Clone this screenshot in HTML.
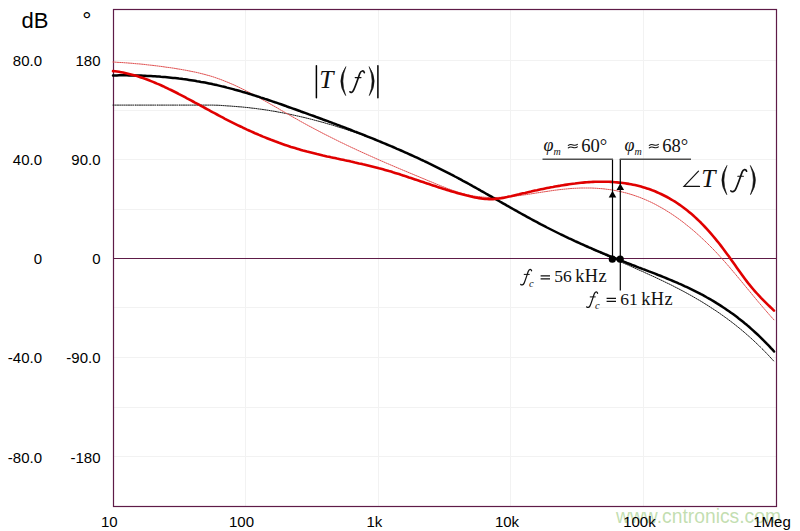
<!DOCTYPE html>
<html><head><meta charset="utf-8"><style>
html,body{margin:0;padding:0;background:#fff;width:800px;height:531px;overflow:hidden}
svg{display:block}
.s{font-family:"Liberation Sans",sans-serif;font-size:15px;fill:#000}
.m{font-family:"Liberation Serif",serif;fill:#111}
</style></head><body>
<svg width="800" height="531" viewBox="0 0 800 531">
<rect width="800" height="531" fill="#fff"/>
<g stroke="#f2f2f2" stroke-width="1"><line x1="245.5" y1="9.5" x2="245.5" y2="506.5"/><line x1="378.5" y1="9.5" x2="378.5" y2="506.5"/><line x1="510.5" y1="9.5" x2="510.5" y2="506.5"/><line x1="643.5" y1="9.5" x2="643.5" y2="506.5"/><line x1="113.5" y1="60.5" x2="776.5" y2="60.5"/><line x1="113.5" y1="110.5" x2="776.5" y2="110.5"/><line x1="113.5" y1="159.5" x2="776.5" y2="159.5"/><line x1="113.5" y1="209.5" x2="776.5" y2="209.5"/><line x1="113.5" y1="307.5" x2="776.5" y2="307.5"/><line x1="113.5" y1="357.5" x2="776.5" y2="357.5"/><line x1="113.5" y1="407.5" x2="776.5" y2="407.5"/><line x1="113.5" y1="456.5" x2="776.5" y2="456.5"/></g>
<line x1="113.5" y1="258.5" x2="776.5" y2="258.5" stroke="#5e1b47" stroke-width="1.1"/>
<rect x="113.5" y="9.5" width="663" height="497" fill="none" stroke="#5e1b47" stroke-width="1.2"/>
<text x="616" y="522.5" font-family="Liberation Sans,sans-serif" font-size="19.3" fill="#b3d69c" fill-opacity="0.8">www.cntronics.com</text>
<g class="s">
<text x="21.5" y="28.2" font-size="22">dB</text>
<text x="82.2" y="27.8" font-size="23">°</text>
<text x="42" y="65.5" text-anchor="end">80.0</text><text x="100.5" y="65.5" text-anchor="end">180</text><text x="42" y="165.0" text-anchor="end">40.0</text><text x="100.5" y="165.0" text-anchor="end">90.0</text><text x="42" y="264.2" text-anchor="end">0</text><text x="100.5" y="264.2" text-anchor="end">0</text><text x="42" y="363.3" text-anchor="end">-40.0</text><text x="100.5" y="363.3" text-anchor="end">-90.0</text><text x="42" y="462.5" text-anchor="end">-80.0</text><text x="100.5" y="462.5" text-anchor="end">-180</text>
<text x="109.3" y="526.5" text-anchor="middle">10</text><text x="241.5" y="526.5" text-anchor="middle">100</text><text x="374.3" y="526.5" text-anchor="middle">1k</text><text x="507.0" y="526.5" text-anchor="middle">10k</text><text x="639.4" y="526.5" text-anchor="middle">100k</text><text x="772.0" y="526.5" text-anchor="middle">1Meg</text>
</g>
<g fill="none" stroke-linecap="round" stroke-linejoin="round">
<path d="M113.0 105.1 L115.0 105.1 L117.0 105.1 L119.0 105.1 L121.0 105.1 L123.0 105.1 L125.0 105.1 L127.0 105.1 L129.0 105.1 L131.0 105.1 L133.0 105.1 L135.0 105.1 L137.0 105.1 L139.0 105.1 L141.0 105.1 L143.0 105.1 L145.0 105.1 L147.0 105.1 L149.0 105.1 L151.0 105.1 L153.0 105.1 L155.0 105.1 L157.0 105.1 L159.0 105.1 L161.0 105.1 L163.0 105.1 L165.0 105.1 L167.0 105.1 L169.0 105.1 L171.0 105.1 L173.0 105.1 L175.0 105.1 L177.0 105.1 L179.0 105.1 L181.0 105.1 L183.0 105.1 L185.0 105.1 L187.0 105.1 L189.0 105.1 L191.0 105.1 L193.0 105.1 L195.0 105.1 L197.0 105.1 L199.0 105.1 L201.0 105.1 L203.0 105.1 L205.0 105.1 L207.0 105.1 L209.0 105.1 L211.0 105.1 L213.0 105.1 L215.0 105.2 L217.0 105.2 L219.0 105.3 L221.0 105.4 L223.0 105.6 L225.0 105.7 L227.0 105.9 L229.0 106.0 L231.0 106.1 L233.0 106.3 L235.0 106.4 L237.0 106.6 L239.0 106.8 L241.0 106.9 L243.0 107.1 L245.0 107.3 L247.0 107.5 L249.0 107.7 L251.0 108.0 L253.0 108.2 L255.0 108.4 L257.0 108.7 L259.0 109.0 L261.0 109.2 L263.0 109.5 L265.0 109.8 L267.0 110.1 L269.0 110.4 L271.0 110.8 L273.0 111.1 L275.0 111.4 L277.0 111.8 L279.0 112.2 L281.0 112.5 L283.0 112.9 L285.0 113.3 L287.0 113.7 L289.0 114.1 L291.0 114.5 L293.0 115.0 L295.0 115.4 L297.0 115.9 L299.0 116.3 L301.0 116.8 L303.0 117.2 L305.0 117.7 L307.0 118.2 L309.0 118.7 L311.0 119.2 L313.0 119.7 L315.0 120.3 L317.0 120.8 L319.0 121.3 L321.0 121.9 L323.0 122.4 L325.0 123.0 L327.0 123.6 L329.0 124.2 L331.0 124.7 L333.0 125.3 L335.0 125.9 L337.0 126.6 L339.0 127.2 L341.0 127.8 L343.0 128.4 L345.0 129.1 L347.0 129.7 L349.0 130.4 L351.0 131.1 L353.0 131.7 L355.0 132.4 L357.0 133.1 L359.0 133.8 L361.0 134.5 L363.0 135.2 L365.0 136.0 L367.0 136.7 L369.0 137.4 L371.0 138.2 L373.0 138.9 L375.0 139.7 L377.0 140.5 L379.0 141.3 L381.0 142.1 L383.0 142.9 L385.0 143.7 L387.0 144.5 L389.0 145.3 L391.0 146.1 L393.0 147.0 L395.0 147.8 L397.0 148.7 L399.0 149.6 L401.0 150.4 L403.0 151.3 L405.0 152.2 L407.0 153.1 L409.0 154.0 L411.0 154.9 L413.0 155.8 L415.0 156.8 L417.0 157.7 L419.0 158.7 L421.0 159.6 L423.0 160.6 L425.0 161.6 L427.0 162.5 L429.0 163.5 L431.0 164.5 L433.0 165.5 L435.0 166.5 L437.0 167.5 L439.0 168.6 L441.0 169.6 L443.0 170.6 L445.0 171.7 L447.0 172.7 L449.0 173.7 L451.0 174.8 L453.0 175.9 L455.0 176.9 L457.0 178.0 L459.0 179.1 L461.0 180.1 L463.0 181.2 L465.0 182.3 L467.0 183.4 L469.0 184.5 L471.0 185.6 L473.0 186.7 L475.0 187.8 L477.0 188.9 L479.0 190.0 L481.0 191.1 L483.0 192.2 L485.0 193.4 L487.0 194.5 L489.0 195.6 L491.0 196.7 L493.0 197.9 L495.0 199.0 L497.0 200.1 L499.0 201.2 L501.0 202.4 L503.0 203.5 L505.0 204.6 L507.0 205.7 L509.0 206.8 L511.0 208.0 L513.0 209.1 L515.0 210.2 L517.0 211.3 L519.0 212.4 L521.0 213.5 L523.0 214.6 L525.0 215.7 L527.0 216.8 L529.0 217.9 L531.0 219.0 L533.0 220.1 L535.0 221.1 L537.0 222.2 L539.0 223.2 L541.0 224.3 L543.0 225.3 L545.0 226.4 L547.0 227.4 L549.0 228.5 L551.0 229.5 L553.0 230.5 L555.0 231.5 L557.0 232.5 L559.0 233.5 L561.0 234.5 L563.0 235.5 L565.0 236.5 L567.0 237.4 L569.0 238.4 L571.0 239.4 L573.0 240.3 L575.0 241.3 L577.0 242.2 L579.0 243.1 L581.0 244.1 L583.0 245.0 L585.0 245.9 L587.0 246.8 L589.0 247.8 L591.0 248.7 L593.0 249.6 L595.0 250.5 L597.0 251.4 L599.0 252.3 L601.0 253.2 L603.0 254.0 L605.0 254.9 L607.0 255.8 L609.0 256.7 L611.0 257.6 L613.0 258.5 L615.0 259.4 L617.0 260.2 L619.0 261.1 L621.0 262.0 L623.0 262.9 L625.0 263.8 L627.0 264.6 L629.0 265.5 L631.0 266.4 L633.0 267.3 L635.0 268.2 L637.0 269.1 L639.0 270.0 L641.0 270.9 L643.0 271.7 L645.0 272.7 L647.0 273.6 L649.0 274.5 L651.0 275.4 L653.0 276.3 L655.0 277.2 L657.0 278.2 L659.0 279.1 L661.0 280.1 L663.0 281.0 L665.0 282.0 L667.0 283.0 L669.0 283.9 L671.0 284.9 L673.0 285.9 L675.0 287.0 L677.0 288.0 L679.0 289.0 L681.0 290.1 L683.0 291.1 L685.0 292.2 L687.0 293.3 L689.0 294.4 L691.0 295.5 L693.0 296.6 L695.0 297.8 L697.0 299.0 L699.0 300.1 L701.0 301.3 L703.0 302.5 L705.0 303.8 L707.0 305.0 L709.0 306.3 L711.0 307.6 L713.0 308.9 L715.0 310.2 L717.0 311.5 L719.0 312.9 L721.0 314.3 L723.0 315.7 L725.0 317.2 L727.0 318.6 L729.0 320.1 L731.0 321.6 L733.0 323.1 L735.0 324.7 L737.0 326.3 L739.0 327.9 L741.0 329.5 L743.0 331.2 L745.0 332.9 L747.0 334.7 L749.0 336.4 L751.0 338.2 L753.0 340.0 L755.0 341.9 L757.0 343.8 L759.0 345.7 L761.0 347.7 L763.0 349.7 L765.0 351.7 L767.0 353.8 L769.0 355.9 L771.0 358.1 L773.0 360.2 L773.6 360.9" stroke="#1a1a1a" stroke-width="1" stroke-dasharray="1.2 1"/>
<path d="M113.0 62.0 L115.0 62.1 L117.0 62.3 L119.0 62.4 L121.0 62.5 L123.0 62.6 L125.0 62.8 L127.0 62.9 L129.0 63.1 L131.0 63.2 L133.0 63.4 L135.0 63.6 L137.0 63.8 L139.0 63.9 L141.0 64.1 L143.0 64.3 L145.0 64.5 L147.0 64.8 L149.0 65.0 L151.0 65.2 L153.0 65.4 L155.0 65.7 L157.0 65.9 L159.0 66.2 L161.0 66.4 L163.0 66.7 L165.0 67.0 L167.0 67.3 L169.0 67.5 L171.0 67.8 L173.0 68.1 L175.0 68.4 L177.0 68.8 L179.0 69.1 L181.0 69.4 L183.0 69.8 L185.0 70.1 L187.0 70.5 L189.0 70.9 L191.0 71.3 L193.0 71.7 L195.0 72.1 L197.0 72.5 L199.0 73.0 L201.0 73.5 L203.0 74.0 L205.0 74.5 L207.0 75.1 L209.0 75.6 L211.0 76.2 L213.0 76.8 L215.0 77.5 L217.0 78.2 L219.0 78.9 L221.0 79.6 L223.0 80.4 L225.0 81.2 L227.0 82.0 L229.0 82.8 L231.0 83.7 L233.0 84.5 L235.0 85.4 L237.0 86.4 L239.0 87.3 L241.0 88.3 L243.0 89.3 L245.0 90.2 L247.0 91.3 L249.0 92.3 L251.0 93.3 L253.0 94.4 L255.0 95.5 L257.0 96.6 L259.0 97.6 L261.0 98.8 L263.0 99.9 L265.0 101.0 L267.0 102.1 L269.0 103.3 L271.0 104.4 L273.0 105.5 L275.0 106.7 L277.0 107.8 L279.0 109.0 L281.0 110.2 L283.0 111.3 L285.0 112.5 L287.0 113.6 L289.0 114.8 L291.0 115.9 L293.0 117.1 L295.0 118.2 L297.0 119.3 L299.0 120.5 L301.0 121.6 L303.0 122.7 L305.0 123.8 L307.0 124.9 L309.0 126.0 L311.0 127.0 L313.0 128.1 L315.0 129.2 L317.0 130.2 L319.0 131.3 L321.0 132.3 L323.0 133.4 L325.0 134.4 L327.0 135.4 L329.0 136.4 L331.0 137.4 L333.0 138.4 L335.0 139.4 L337.0 140.4 L339.0 141.4 L341.0 142.4 L343.0 143.3 L345.0 144.3 L347.0 145.3 L349.0 146.2 L351.0 147.2 L353.0 148.1 L355.0 149.0 L357.0 150.0 L359.0 150.9 L361.0 151.8 L363.0 152.7 L365.0 153.6 L367.0 154.5 L369.0 155.4 L371.0 156.3 L373.0 157.2 L375.0 158.1 L377.0 159.0 L379.0 159.9 L381.0 160.8 L383.0 161.6 L385.0 162.5 L387.0 163.4 L389.0 164.2 L391.0 165.1 L393.0 165.9 L395.0 166.8 L397.0 167.6 L399.0 168.5 L401.0 169.3 L403.0 170.2 L405.0 171.0 L407.0 171.8 L409.0 172.7 L411.0 173.5 L413.0 174.3 L415.0 175.2 L417.0 176.0 L419.0 176.8 L421.0 177.7 L423.0 178.5 L425.0 179.3 L427.0 180.2 L429.0 181.0 L431.0 181.8 L433.0 182.6 L435.0 183.5 L437.0 184.3 L439.0 185.1 L441.0 185.9 L443.0 186.7 L445.0 187.5 L447.0 188.3 L449.0 189.0 L451.0 189.7 L453.0 190.5 L455.0 191.1 L457.0 191.8 L459.0 192.4 L461.0 193.0 L463.0 193.6 L465.0 194.1 L467.0 194.6 L469.0 195.1 L471.0 195.5 L473.0 195.9 L475.0 196.2 L477.0 196.5 L479.0 196.7 L481.0 196.9 L483.0 197.1 L485.0 197.3 L487.0 197.4 L489.0 197.5 L491.0 197.5 L493.0 197.5 L495.0 197.5 L497.0 197.5 L499.0 197.4 L501.0 197.3 L503.0 197.2 L505.0 197.0 L507.0 196.9 L509.0 196.7 L511.0 196.5 L513.0 196.3 L515.0 196.1 L517.0 195.8 L519.0 195.6 L521.0 195.3 L523.0 195.0 L525.0 194.8 L527.0 194.5 L529.0 194.2 L531.0 193.9 L533.0 193.5 L535.0 193.2 L537.0 192.9 L539.0 192.6 L541.0 192.3 L543.0 192.0 L545.0 191.7 L547.0 191.4 L549.0 191.1 L551.0 190.8 L553.0 190.5 L555.0 190.2 L557.0 190.0 L559.0 189.7 L561.0 189.5 L563.0 189.3 L565.0 189.1 L567.0 188.9 L569.0 188.7 L571.0 188.5 L573.0 188.4 L575.0 188.3 L577.0 188.2 L579.0 188.1 L581.0 188.0 L583.0 188.0 L585.0 188.0 L587.0 188.0 L589.0 188.0 L591.0 188.0 L593.0 188.1 L595.0 188.2 L597.0 188.3 L599.0 188.5 L601.0 188.6 L603.0 188.8 L605.0 189.0 L607.0 189.3 L609.0 189.5 L611.0 189.8 L613.0 190.1 L615.0 190.5 L617.0 190.9 L619.0 191.3 L621.0 191.7 L623.0 192.2 L625.0 192.7 L627.0 193.2 L629.0 193.8 L631.0 194.4 L633.0 195.0 L635.0 195.7 L637.0 196.4 L639.0 197.1 L641.0 197.9 L643.0 198.7 L645.0 199.5 L647.0 200.4 L649.0 201.3 L651.0 202.2 L653.0 203.2 L655.0 204.2 L657.0 205.3 L659.0 206.4 L661.0 207.5 L663.0 208.6 L665.0 209.8 L667.0 211.1 L669.0 212.3 L671.0 213.6 L673.0 214.9 L675.0 216.3 L677.0 217.7 L679.0 219.1 L681.0 220.6 L683.0 222.1 L685.0 223.7 L687.0 225.3 L689.0 226.9 L691.0 228.5 L693.0 230.2 L695.0 231.9 L697.0 233.7 L699.0 235.5 L701.0 237.3 L703.0 239.2 L705.0 241.1 L707.0 243.0 L709.0 245.0 L711.0 247.0 L713.0 249.0 L715.0 251.1 L717.0 253.2 L719.0 255.4 L721.0 257.6 L723.0 259.8 L725.0 262.0 L727.0 264.3 L729.0 266.6 L731.0 269.0 L733.0 271.3 L735.0 273.7 L737.0 276.1 L739.0 278.5 L741.0 280.9 L743.0 283.3 L745.0 285.8 L747.0 288.2 L749.0 290.6 L751.0 293.0 L753.0 295.5 L755.0 297.9 L757.0 300.3 L759.0 302.7 L761.0 305.0 L763.0 307.4 L765.0 309.7 L767.0 312.0 L769.0 314.3 L771.0 316.6 L773.0 318.8 L774.1 320.0" stroke="#e05050" stroke-width="1" stroke-dasharray="1.2 1"/>
<path d="M113.0 75.4 L115.0 75.4 L117.0 75.4 L119.0 75.3 L121.0 75.3 L123.0 75.3 L125.0 75.3 L127.0 75.3 L129.0 75.4 L131.0 75.4 L133.0 75.4 L135.0 75.5 L137.0 75.5 L139.0 75.6 L141.0 75.6 L143.0 75.7 L145.0 75.8 L147.0 75.9 L149.0 76.0 L151.0 76.1 L153.0 76.2 L155.0 76.3 L157.0 76.5 L159.0 76.6 L161.0 76.8 L163.0 76.9 L165.0 77.1 L167.0 77.3 L169.0 77.5 L171.0 77.7 L173.0 77.9 L175.0 78.1 L177.0 78.3 L179.0 78.6 L181.0 78.8 L183.0 79.1 L185.0 79.3 L187.0 79.6 L189.0 79.9 L191.0 80.2 L193.0 80.5 L195.0 80.8 L197.0 81.2 L199.0 81.5 L201.0 81.9 L203.0 82.2 L205.0 82.6 L207.0 83.0 L209.0 83.4 L211.0 83.8 L213.0 84.3 L215.0 84.7 L217.0 85.1 L219.0 85.6 L221.0 86.1 L223.0 86.6 L225.0 87.0 L227.0 87.6 L229.0 88.1 L231.0 88.6 L233.0 89.1 L235.0 89.7 L237.0 90.2 L239.0 90.8 L241.0 91.4 L243.0 92.0 L245.0 92.5 L247.0 93.1 L249.0 93.8 L251.0 94.4 L253.0 95.0 L255.0 95.6 L257.0 96.3 L259.0 96.9 L261.0 97.6 L263.0 98.2 L265.0 98.9 L267.0 99.5 L269.0 100.2 L271.0 100.9 L273.0 101.6 L275.0 102.3 L277.0 102.9 L279.0 103.6 L281.0 104.3 L283.0 105.0 L285.0 105.7 L287.0 106.5 L289.0 107.2 L291.0 107.9 L293.0 108.6 L295.0 109.3 L297.0 110.0 L299.0 110.7 L301.0 111.5 L303.0 112.2 L305.0 112.9 L307.0 113.6 L309.0 114.4 L311.0 115.1 L313.0 115.8 L315.0 116.5 L317.0 117.3 L319.0 118.0 L321.0 118.7 L323.0 119.5 L325.0 120.2 L327.0 120.9 L329.0 121.7 L331.0 122.4 L333.0 123.2 L335.0 123.9 L337.0 124.7 L339.0 125.4 L341.0 126.2 L343.0 126.9 L345.0 127.7 L347.0 128.5 L349.0 129.2 L351.0 130.0 L353.0 130.8 L355.0 131.6 L357.0 132.3 L359.0 133.1 L361.0 133.9 L363.0 134.7 L365.0 135.5 L367.0 136.3 L369.0 137.1 L371.0 137.9 L373.0 138.7 L375.0 139.5 L377.0 140.3 L379.0 141.2 L381.0 142.0 L383.0 142.8 L385.0 143.6 L387.0 144.5 L389.0 145.3 L391.0 146.2 L393.0 147.0 L395.0 147.9 L397.0 148.8 L399.0 149.6 L401.0 150.5 L403.0 151.4 L405.0 152.3 L407.0 153.2 L409.0 154.1 L411.0 155.0 L413.0 155.9 L415.0 156.8 L417.0 157.7 L419.0 158.6 L421.0 159.6 L423.0 160.5 L425.0 161.5 L427.0 162.4 L429.0 163.4 L431.0 164.3 L433.0 165.3 L435.0 166.3 L437.0 167.3 L439.0 168.3 L441.0 169.3 L443.0 170.3 L445.0 171.3 L447.0 172.3 L449.0 173.3 L451.0 174.4 L453.0 175.4 L455.0 176.5 L457.0 177.5 L459.0 178.6 L461.0 179.7 L463.0 180.8 L465.0 181.8 L467.0 182.9 L469.0 184.0 L471.0 185.1 L473.0 186.3 L475.0 187.4 L477.0 188.5 L479.0 189.6 L481.0 190.8 L483.0 191.9 L485.0 193.0 L487.0 194.2 L489.0 195.3 L491.0 196.4 L493.0 197.6 L495.0 198.7 L497.0 199.9 L499.0 201.0 L501.0 202.2 L503.0 203.3 L505.0 204.4 L507.0 205.6 L509.0 206.7 L511.0 207.9 L513.0 209.0 L515.0 210.1 L517.0 211.2 L519.0 212.4 L521.0 213.5 L523.0 214.6 L525.0 215.7 L527.0 216.8 L529.0 217.9 L531.0 219.0 L533.0 220.1 L535.0 221.2 L537.0 222.2 L539.0 223.3 L541.0 224.4 L543.0 225.4 L545.0 226.4 L547.0 227.5 L549.0 228.5 L551.0 229.5 L553.0 230.5 L555.0 231.5 L557.0 232.5 L559.0 233.5 L561.0 234.5 L563.0 235.4 L565.0 236.4 L567.0 237.3 L569.0 238.3 L571.0 239.2 L573.0 240.1 L575.0 241.1 L577.0 242.0 L579.0 242.9 L581.0 243.8 L583.0 244.7 L585.0 245.6 L587.0 246.5 L589.0 247.4 L591.0 248.2 L593.0 249.1 L595.0 250.0 L597.0 250.8 L599.0 251.7 L601.0 252.5 L603.0 253.3 L605.0 254.2 L607.0 255.0 L609.0 255.8 L611.0 256.6 L613.0 257.4 L615.0 258.2 L617.0 259.0 L619.0 259.8 L621.0 260.6 L623.0 261.4 L625.0 262.2 L627.0 263.0 L629.0 263.7 L631.0 264.5 L633.0 265.3 L635.0 266.0 L637.0 266.8 L639.0 267.6 L641.0 268.3 L643.0 269.1 L645.0 269.8 L647.0 270.6 L649.0 271.4 L651.0 272.1 L653.0 272.9 L655.0 273.7 L657.0 274.5 L659.0 275.3 L661.0 276.0 L663.0 276.8 L665.0 277.6 L667.0 278.5 L669.0 279.3 L671.0 280.1 L673.0 281.0 L675.0 281.8 L677.0 282.7 L679.0 283.6 L681.0 284.4 L683.0 285.3 L685.0 286.3 L687.0 287.2 L689.0 288.1 L691.0 289.1 L693.0 290.1 L695.0 291.1 L697.0 292.1 L699.0 293.1 L701.0 294.2 L703.0 295.2 L705.0 296.3 L707.0 297.5 L709.0 298.6 L711.0 299.7 L713.0 300.9 L715.0 302.1 L717.0 303.4 L719.0 304.6 L721.0 305.9 L723.0 307.2 L725.0 308.5 L727.0 309.9 L729.0 311.3 L731.0 312.7 L733.0 314.1 L735.0 315.6 L737.0 317.1 L739.0 318.7 L741.0 320.2 L743.0 321.8 L745.0 323.5 L747.0 325.1 L749.0 326.8 L751.0 328.6 L753.0 330.4 L755.0 332.2 L757.0 334.0 L759.0 335.9 L761.0 337.8 L763.0 339.8 L765.0 341.8 L767.0 343.9 L769.0 345.9 L771.0 348.1 L773.0 350.2 L774.1 351.5" stroke="#000" stroke-width="2.5"/>
<path d="M113.0 71.1 L115.0 71.3 L117.0 71.5 L119.0 71.8 L121.0 72.2 L123.0 72.6 L125.0 73.0 L127.0 73.4 L129.0 73.9 L131.0 74.4 L133.0 74.9 L135.0 75.5 L137.0 76.1 L139.0 76.7 L141.0 77.4 L143.0 78.1 L145.0 78.8 L147.0 79.5 L149.0 80.3 L151.0 81.1 L153.0 81.9 L155.0 82.7 L157.0 83.6 L159.0 84.4 L161.0 85.3 L163.0 86.2 L165.0 87.2 L167.0 88.1 L169.0 89.1 L171.0 90.0 L173.0 91.0 L175.0 92.0 L177.0 93.0 L179.0 94.1 L181.0 95.1 L183.0 96.1 L185.0 97.2 L187.0 98.3 L189.0 99.3 L191.0 100.4 L193.0 101.5 L195.0 102.6 L197.0 103.6 L199.0 104.7 L201.0 105.8 L203.0 106.9 L205.0 108.0 L207.0 109.1 L209.0 110.2 L211.0 111.3 L213.0 112.4 L215.0 113.4 L217.0 114.5 L219.0 115.6 L221.0 116.7 L223.0 117.7 L225.0 118.8 L227.0 119.8 L229.0 120.8 L231.0 121.8 L233.0 122.8 L235.0 123.8 L237.0 124.8 L239.0 125.8 L241.0 126.7 L243.0 127.7 L245.0 128.6 L247.0 129.6 L249.0 130.5 L251.0 131.4 L253.0 132.3 L255.0 133.2 L257.0 134.0 L259.0 134.9 L261.0 135.7 L263.0 136.6 L265.0 137.4 L267.0 138.2 L269.0 139.0 L271.0 139.8 L273.0 140.5 L275.0 141.3 L277.0 142.0 L279.0 142.8 L281.0 143.5 L283.0 144.2 L285.0 144.9 L287.0 145.6 L289.0 146.2 L291.0 146.9 L293.0 147.5 L295.0 148.1 L297.0 148.7 L299.0 149.3 L301.0 149.9 L303.0 150.5 L305.0 151.0 L307.0 151.6 L309.0 152.1 L311.0 152.6 L313.0 153.1 L315.0 153.6 L317.0 154.1 L319.0 154.5 L321.0 155.0 L323.0 155.5 L325.0 155.9 L327.0 156.4 L329.0 156.8 L331.0 157.3 L333.0 157.7 L335.0 158.1 L337.0 158.6 L339.0 159.0 L341.0 159.4 L343.0 159.8 L345.0 160.3 L347.0 160.7 L349.0 161.1 L351.0 161.6 L353.0 162.0 L355.0 162.5 L357.0 162.9 L359.0 163.4 L361.0 163.8 L363.0 164.3 L365.0 164.7 L367.0 165.2 L369.0 165.7 L371.0 166.2 L373.0 166.7 L375.0 167.2 L377.0 167.7 L379.0 168.3 L381.0 168.8 L383.0 169.3 L385.0 169.9 L387.0 170.5 L389.0 171.1 L391.0 171.6 L393.0 172.3 L395.0 172.9 L397.0 173.5 L399.0 174.1 L401.0 174.8 L403.0 175.4 L405.0 176.1 L407.0 176.7 L409.0 177.4 L411.0 178.0 L413.0 178.7 L415.0 179.4 L417.0 180.1 L419.0 180.7 L421.0 181.4 L423.0 182.1 L425.0 182.8 L427.0 183.4 L429.0 184.1 L431.0 184.8 L433.0 185.4 L435.0 186.1 L437.0 186.8 L439.0 187.4 L441.0 188.1 L443.0 188.7 L445.0 189.3 L447.0 190.0 L449.0 190.6 L451.0 191.2 L453.0 191.8 L455.0 192.3 L457.0 192.9 L459.0 193.5 L461.0 194.0 L463.0 194.5 L465.0 195.1 L467.0 195.6 L469.0 196.0 L471.0 196.5 L473.0 197.0 L475.0 197.4 L477.0 197.8 L479.0 198.1 L481.0 198.4 L483.0 198.7 L485.0 198.9 L487.0 199.0 L489.0 199.1 L491.0 199.1 L493.0 199.1 L495.0 198.9 L497.0 198.7 L499.0 198.5 L501.0 198.2 L503.0 197.9 L505.0 197.5 L507.0 197.1 L509.0 196.6 L511.0 196.2 L513.0 195.7 L515.0 195.2 L517.0 194.7 L519.0 194.3 L521.0 193.8 L523.0 193.3 L525.0 192.9 L527.0 192.4 L529.0 191.9 L531.0 191.5 L533.0 191.0 L535.0 190.6 L537.0 190.2 L539.0 189.7 L541.0 189.3 L543.0 188.9 L545.0 188.5 L547.0 188.1 L549.0 187.7 L551.0 187.3 L553.0 187.0 L555.0 186.6 L557.0 186.2 L559.0 185.9 L561.0 185.5 L563.0 185.2 L565.0 184.9 L567.0 184.6 L569.0 184.3 L571.0 184.0 L573.0 183.7 L575.0 183.5 L577.0 183.2 L579.0 183.0 L581.0 182.8 L583.0 182.6 L585.0 182.4 L587.0 182.3 L589.0 182.1 L591.0 182.0 L593.0 181.9 L595.0 181.8 L597.0 181.8 L599.0 181.7 L601.0 181.7 L603.0 181.7 L605.0 181.7 L607.0 181.8 L609.0 181.8 L611.0 181.9 L613.0 182.0 L615.0 182.2 L617.0 182.4 L619.0 182.6 L621.0 182.8 L623.0 183.0 L625.0 183.3 L627.0 183.6 L629.0 183.9 L631.0 184.3 L633.0 184.7 L635.0 185.1 L637.0 185.6 L639.0 186.1 L641.0 186.6 L643.0 187.2 L645.0 187.8 L647.0 188.4 L649.0 189.1 L651.0 189.8 L653.0 190.6 L655.0 191.3 L657.0 192.2 L659.0 193.1 L661.0 194.0 L663.0 195.0 L665.0 196.0 L667.0 197.0 L669.0 198.1 L671.0 199.3 L673.0 200.5 L675.0 201.7 L677.0 203.0 L679.0 204.4 L681.0 205.8 L683.0 207.2 L685.0 208.7 L687.0 210.3 L689.0 211.9 L691.0 213.6 L693.0 215.3 L695.0 217.1 L697.0 219.0 L699.0 220.9 L701.0 222.8 L703.0 224.9 L705.0 227.0 L707.0 229.1 L709.0 231.3 L711.0 233.6 L713.0 236.0 L715.0 238.4 L717.0 240.8 L719.0 243.3 L721.0 245.9 L723.0 248.5 L725.0 251.2 L727.0 253.9 L729.0 256.6 L731.0 259.4 L733.0 262.2 L735.0 265.0 L737.0 267.9 L739.0 270.7 L741.0 273.5 L743.0 276.3 L745.0 279.0 L747.0 281.6 L749.0 284.2 L751.0 286.6 L753.0 289.0 L755.0 291.3 L757.0 293.5 L759.0 295.7 L761.0 297.8 L763.0 299.8 L765.0 301.8 L767.0 303.8 L769.0 305.8 L771.0 307.7 L773.0 309.7 L774.0 310.7" stroke="#e00000" stroke-width="2.6"/>
</g>
<g stroke="#000" stroke-width="1.2">
<line x1="612.5" y1="159" x2="612.5" y2="259"/>
<line x1="620.3" y1="159" x2="620.3" y2="290.6"/>
</g>
<g stroke="#505050" stroke-width="1.6">
<line x1="542.5" y1="159.2" x2="613" y2="159.2"/>
<line x1="619.8" y1="159.2" x2="691" y2="159.2"/>
</g>
<g fill="#000">
<path d="M612.5 190.8 L608.7 197.6 L616.3 197.6 Z"/>
<path d="M620.3 183.6 L616.5 190 L624.1 190 Z"/>
<circle cx="612.3" cy="259.2" r="3.6"/>
<circle cx="620.2" cy="259.2" r="3.6"/>
</g>
<g class="m" font-size="18">
<g>
<text x="543.6" y="151.1" font-style="italic">φ</text><text x="553.6" y="154.6" font-style="italic" font-size="10">m</text><text x="581.2" y="151.8" font-size="18.6">60°</text>
</g>
<text x="624.6" y="151.1" font-style="italic">φ</text><text x="634.6" y="154.6" font-style="italic" font-size="10">m</text><text x="662.2" y="151.8" font-size="18.6">68°</text>
<g>
<text x="529" y="286.6" font-style="italic" font-size="10.5">c</text>
<text x="554.3" y="282" font-size="17.5">56</text><text x="575.2" y="282" font-size="18.3" letter-spacing="0.5">kHz</text>
</g>
<g transform="translate(66 22.5)">
<text x="529" y="286.6" font-style="italic" font-size="10.5">c</text>
<text x="554.3" y="282" font-size="17.5">61</text><text x="575.2" y="282" font-size="18.3" letter-spacing="0.5">kHz</text>
</g>
</g>
<g fill="none" stroke="#111" stroke-linecap="round">
<path d="M568.3 145.4 C569.9 144.1 571.5 144.3 573 144.9 C574.5 145.5 576.1 145.5 577.4 144.4 M568.3 147.9 C569.9 146.6 571.5 146.8 573 147.4 C574.5 148 576.1 148 577.4 146.9" stroke-width="1.1"/>
<path d="M649.3 145.4 C650.9 144.1 652.5 144.3 654 144.9 C655.5 145.5 657.1 145.5 658.4 144.4 M649.3 147.9 C650.9 146.6 652.5 146.8 654 147.4 C655.5 148 657.1 148 658.4 146.9" stroke-width="1.1"/>
<g>
<path d="M531.6 270.8 C531 268.9 529.3 268.9 528.3 271.3 C527 275 525.2 281 524 283.4 C523.2 285 521.4 285.3 520.7 284.3" stroke-width="1.25"/>
<path d="M524.2 274.4 H529.3" stroke-width="1"/>
<path d="M540.6 275.8 H550 M540.6 278.9 H550" stroke-width="1.2" stroke-linecap="butt"/>
</g>
<g transform="translate(66 22.5)">
<path d="M531.6 270.8 C531 268.9 529.3 268.9 528.3 271.3 C527 275 525.2 281 524 283.4 C523.2 285 521.4 285.3 520.7 284.3" stroke-width="1.25"/>
<path d="M524.2 274.4 H529.3" stroke-width="1"/>
<path d="M540.6 275.8 H550 M540.6 278.9 H550" stroke-width="1.2" stroke-linecap="butt"/>
</g>
</g>
<g class="m" font-size="25.5">
<text x="319.3" y="88.4" font-style="italic">T</text>
<text x="701.3" y="187.1" font-style="italic">T</text>
</g>
<g fill="none" stroke="#111" stroke-linecap="round">
<line x1="316.4" y1="65.8" x2="316.4" y2="97.8" stroke="#000" stroke-width="1.5"/>
<line x1="377.9" y1="65.8" x2="377.9" y2="97.8" stroke="#000" stroke-width="1.5"/>
<path d="M345.7 67 Q335.9 81.3 345.7 95.6 Q339.9 81.3 345.7 67Z" fill="#111" stroke-width="0.6"/>
<path d="M369.3 67 Q379.1 81.3 369.3 95.6 Q375.1 81.3 369.3 67Z" fill="#111" stroke-width="0.6"/>
<path d="M364.3 72.6 C363.6 70.3 361 70.3 359.8 73.5 C357.6 79.5 355.2 87.5 353.2 90.8 C352.2 92.6 350.7 93 350 91.8" stroke-width="1.7"/>
<path d="M355.2 77.6 H361" stroke-width="1.1"/>
<path d="M726.8 165.8 Q716.9 180.2 726.8 194.7 Q720.9 180.2 726.8 165.8Z" fill="#111" stroke-width="0.6"/>
<path d="M750.5 165.8 Q760.4 180.2 750.5 194.7 Q756.4 180.2 750.5 165.8Z" fill="#111" stroke-width="0.6"/>
<path d="M746.6 171.2 C745.9 168.9 743.3 168.9 742.1 172.1 C739.9 178.1 737.3 186.5 735.2 190 C734 191.8 732 192.2 730.9 191" stroke-width="1.7"/>
<path d="M737.8 176.3 H743.4" stroke-width="1.1"/>
<path d="M698.5 171.2 L684 186.4 H699.5" stroke-width="1.2" stroke-linejoin="miter"/>
</g>
</svg>
</body></html>
